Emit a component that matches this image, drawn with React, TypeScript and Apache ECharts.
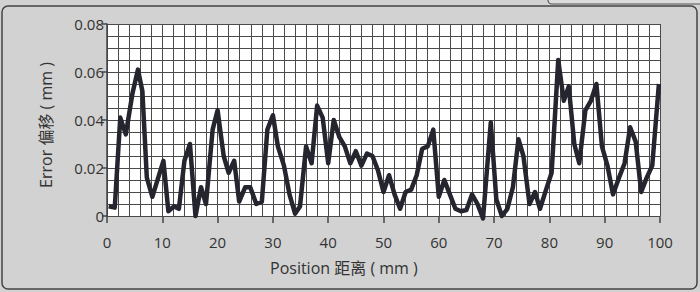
import React, { useEffect, useRef } from "react";
import * as echarts from "echarts";

const positions = [
  0.3, 1.4, 2.4, 3.4, 4.6, 5.6, 6.4, 7.2, 8.2, 9.0,
  10.2, 11.1, 12.1, 13.0, 14.0, 15.0, 16.0, 17.0, 17.9, 19.1,
  20.0, 21.1, 22.0, 23.0, 23.9, 25.0, 25.9, 27.0, 28.0, 29.0,
  30.0, 30.9, 32.0, 33.0, 34.0, 34.9, 36.0, 37.0, 38.0, 39.0,
  40.0, 41.0, 42.0, 43.0, 44.0, 45.0, 46.0, 47.0, 48.0, 49.0,
  50.0, 51.0, 52.0, 53.0, 54.0, 55.0, 56.0, 57.0, 58.0, 59.0,
  60.0, 61.0, 62.0, 63.0, 64.0, 65.0, 66.0, 67.0, 68.0, 69.4,
  70.4, 71.4, 72.4, 73.4, 74.4, 75.3, 76.4, 77.4, 78.3, 79.4,
  80.4, 81.6, 82.6, 83.5, 84.5, 85.4, 86.5, 87.5, 88.5, 89.5,
  90.5, 91.5, 92.6, 93.6, 94.6, 95.6, 96.6, 97.6, 98.6, 99.8,
];

const errors = [
  0.004, 0.0035, 0.041, 0.034, 0.051, 0.061, 0.052, 0.016, 0.008, 0.014,
  0.023, 0.002, 0.004, 0.003, 0.023, 0.030, 0.0, 0.012, 0.005, 0.036,
  0.044, 0.025, 0.018, 0.023, 0.006, 0.012, 0.012, 0.005, 0.006, 0.036,
  0.042, 0.029, 0.021, 0.009, 0.001, 0.004, 0.029, 0.022, 0.046, 0.041,
  0.022, 0.040, 0.033, 0.029, 0.022, 0.027, 0.021, 0.026, 0.025, 0.019,
  0.010, 0.017, 0.009, 0.003, 0.010, 0.011, 0.017, 0.028, 0.029, 0.036,
  0.008, 0.015, 0.009, 0.003, 0.002, 0.0025, 0.009, 0.005, -0.001, 0.039,
  0.007, 0.0, 0.003, 0.012, 0.032, 0.025, 0.005, 0.010, 0.003, 0.011,
  0.018, 0.065, 0.048, 0.054, 0.030, 0.022, 0.044, 0.048, 0.055, 0.029,
  0.021, 0.009, 0.016, 0.022, 0.037, 0.031, 0.010, 0.016, 0.021, 0.055,
];

const xTitle = "Position 距离 ( mm )";
const yTitle = "Error 偏移 ( mm )";

const FONT = '"Open Sans", "Noto Sans CJK SC", sans-serif';

export default function App() {
  const ref = useRef<HTMLDivElement>(null);
  useEffect(() => {
    if (!ref.current) return;
    const chart = echarts.init(ref.current, undefined, { renderer: "svg" });
    const data = positions.map((p, i) => [p, errors[i]]);
    chart.setOption({
      animation: false,
      backgroundColor: "#d2d2d2",
      grid: {
        left: 107,
        right: 40,
        top: 24,
        bottom: 76,
        show: true,
        backgroundColor: "#ffffff",
        borderWidth: 0,
      },
      xAxis: {
        type: "value",
        min: 0,
        max: 100,
        interval: 10,
        offset: 8,
        axisLine: { show: false },
        axisTick: { show: true, length: 7, lineStyle: { color: "#444", width: 1.5 } },
        minorTick: { show: false, splitNumber: 5 },
        axisLabel: { color: "#333", fontSize: 15, fontFamily: FONT, margin: 10 },
        splitLine: { show: true, lineStyle: { color: "#4a4a4a", width: 1 } },
        minorSplitLine: { show: true, lineStyle: { color: "#4a4a4a", width: 1 } },
      },
      yAxis: {
        type: "value",
        min: 0,
        max: 0.08,
        interval: 0.02,
        axisLine: { show: true, lineStyle: { color: "#444", width: 1.5 } },
        axisTick: { show: true, length: 5, lineStyle: { color: "#444", width: 1.5 } },
        minorTick: { show: false, splitNumber: 4 },
        axisLabel: { color: "#333", fontSize: 15, fontFamily: FONT, margin: 3 },
        splitLine: { show: true, lineStyle: { color: "#4a4a4a", width: 1 } },
        minorSplitLine: { show: true, lineStyle: { color: "#4a4a4a", width: 1 } },
      },
      graphic: [
        {
          type: "rect",
          shape: { x: 2, y: 6, width: 695, height: 283, r: 6 },
          style: { fill: "none", stroke: "#444", lineWidth: 1.5 },
          silent: true,
        },
        {
          type: "rect",
          shape: { x: 548, y: -6, width: 160, height: 10, r: 4 },
          style: { fill: "#dcdcdc", stroke: "#555", lineWidth: 1.2 },
          silent: true,
        },
        {
          type: "text",
          x: 270,
          y: 268,
          style: {
            text: xTitle,
            fill: "#333",
            font: `16px ${FONT}`,
            textAlign: "left",
            textVerticalAlign: "middle",
          },
        },
        {
          type: "text",
          x: 46,
          y: 125,
          rotation: Math.PI / 2,
          style: {
            text: yTitle,
            fill: "#333",
            font: `16px ${FONT}`,
            textAlign: "center",
            textVerticalAlign: "middle",
          },
        },
      ],
      series: [
        {
          type: "line",
          data,
          showSymbol: false,
          symbol: "none",
          clip: false,
          lineStyle: { color: "#25252f", width: 4.5, join: "round" },
          z: 5,
        },
      ],
    });
    return () => chart.dispose();
  }, []);
  return (
    <div
      ref={ref}
      style={{ position: "fixed", left: 0, top: 0, width: 700, height: 292 }}
    />
  );
}
